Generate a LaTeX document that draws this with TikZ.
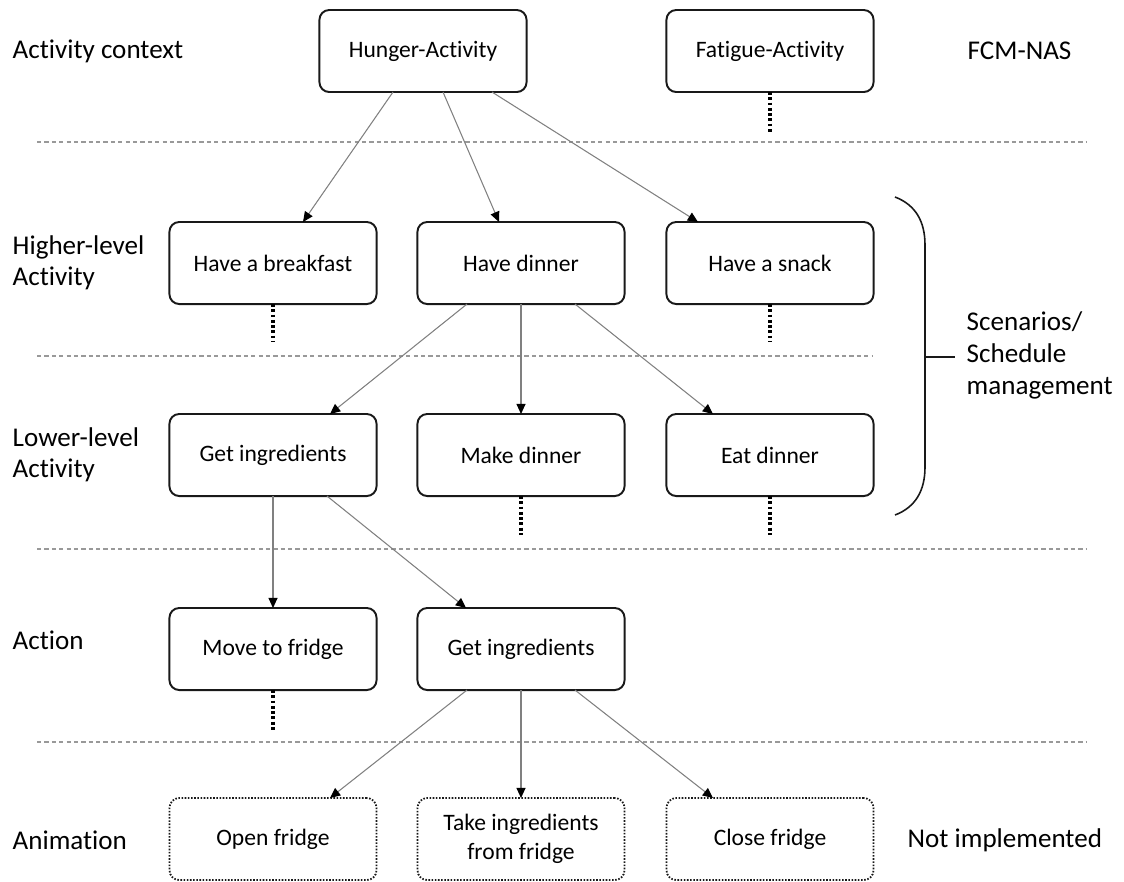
\documentclass[tikz,border=0pt]{standalone}
\usepackage{fontspec}
\setmainfont{Carlito}[RawFeature={-liga;-calt;-dlig}]
\usetikzlibrary{arrows.meta,calc}

\tikzset{
  box/.style={draw=black!90, line width=0.55pt, rounded corners=2.8pt,
    minimum width=2.07cm, minimum height=0.82cm, inner sep=0pt, outer sep=0pt,
    align=center, font=\fontsize{6.7}{8.2}\selectfont},
  pending/.style={box, dash pattern=on 0.45pt off 0.45pt, line width=0.5pt},
  level/.style={anchor=west, inner sep=0pt, align=left,
    font=\fontsize{7.7}{8.9}\selectfont},
  link/.style={draw=black!50, line width=0.3pt,
    -{Triangle[length=2.9pt,width=2.6pt,color=black]}},
  stub/.style={draw=black, line width=0.9pt, dash pattern=on 0.8pt off 0.7pt},
  sep/.style={draw=black!40, line width=0.32pt, dash pattern=on 1.2pt off 0.9pt},
}

\begin{document}
\begin{tikzpicture}[x=0.01cm, y=-0.01cm]
\useasboundingbox (0,0) rectangle (1124,881);

% layer separators
\draw[sep] (37,142) -- (1087,142);
\draw[sep] (37,356) -- (873,356);
\draw[sep] (37,549) -- (1087,549);
\draw[sep] (37,742) -- (1087,742);

% row labels
\node[level] (lctx) at (12,51) {Activity context};
\node[level] (lhigh) at (12,263) {Higher-level\\Activity};
\node[level] (llow) at (12,455) {Lower-level\\Activity};
\node[level] (lact) at (12,640) {Action};
\node[level] (lanim) at (12,840) {Animation};
\node[level] (fcm) at (967,51) {FCM-NAS};
\node[level] (notimpl) at (907,840) {Not implemented};
\node[level, font=\fontsize{7.7}{9.1}\selectfont] (sched) at (966,355) {Scenarios/\\Schedule\\management};

% activity context
\node[box] (hunger) at (423,51) {Hunger-Activity};
\node[box] (fatigue) at (770,51) {Fatigue-Activity};

% higher-level activities
\node[box] (breakfast) at (273,263) {Have a breakfast};
\node[box] (dinner) at (521,263) {Have dinner};
\node[box] (snack) at (770,263) {Have a snack};

% lower-level activities
\node[box] (ingr) at (273,455) {Get ingredients};
\node[box] (make) at (521,455) {Make dinner};
\node[box] (eat) at (770,455) {Eat dinner};

% actions
\node[box] (move) at (273,649) {Move to fridge};
\node[box] (ingract) at (521,649) {Get ingredients};

% animations
\node[pending] (open) at (273,839) {Open fridge};
\node[pending] (take) at (521,839) {Take ingredients\\from fridge};
\node[pending] (close) at (770,839) {Close fridge};

% hierarchy links
\draw[link] ($(hunger.south)+(-30,0)$) -- ($(breakfast.north)+(30,0)$);
\draw[link] ($(hunger.south)+(20,0)$) -- ($(dinner.north)+(-22,0)$);
\draw[link] ($(hunger.south)+(69,0)$) -- ($(snack.north)+(-72,0)$);

\draw[link] ($(dinner.south)+(-54,0)$) -- ($(ingr.north)+(57,0)$);
\draw[link] (dinner.south) -- (make.north);
\draw[link] ($(dinner.south)+(54,0)$) -- ($(eat.north)+(-57,0)$);

\draw[link] (ingr.south) -- (move.north);
\draw[link] ($(ingr.south)+(54,0)$) -- ($(ingract.north)+(-55,0)$);

\draw[link] ($(ingract.south)+(-54,0)$) -- ($(open.north)+(57,0)$);
\draw[link] (ingract.south) -- (take.north);
\draw[link] ($(ingract.south)+(54,0)$) -- ($(close.north)+(-57,0)$);

% elided branches
\coordinate (sfat) at ($(fatigue.south)+(0,40)$);
\coordinate (sbrk) at ($(breakfast.south)+(0,38)$);
\coordinate (ssnk) at ($(snack.south)+(0,38)$);
\coordinate (smak) at ($(make.south)+(0,39)$);
\coordinate (seat) at ($(eat.south)+(0,39)$);
\coordinate (smov) at ($(move.south)+(0,40)$);
\draw[stub] (fatigue.south) -- (sfat);
\draw[stub] (breakfast.south) -- (sbrk);
\draw[stub] (snack.south) -- (ssnk);
\draw[stub] (make.south) -- (smak);
\draw[stub] (eat.south) -- (seat);
\draw[stub] (move.south) -- (smov);

% brace grouping the activity layers
\draw[black!90, line width=0.45pt]
  (895,197) .. controls (916,205) and (925,222) .. (925,245)
  -- (925,467) .. controls (925,490) and (916,507) .. (895,515);
\coordinate (btip) at (925,357);
\draw[black!90, line width=0.45pt] (btip) -- ($(sched.west)+(-11,2)$);
\end{tikzpicture}
\end{document}
